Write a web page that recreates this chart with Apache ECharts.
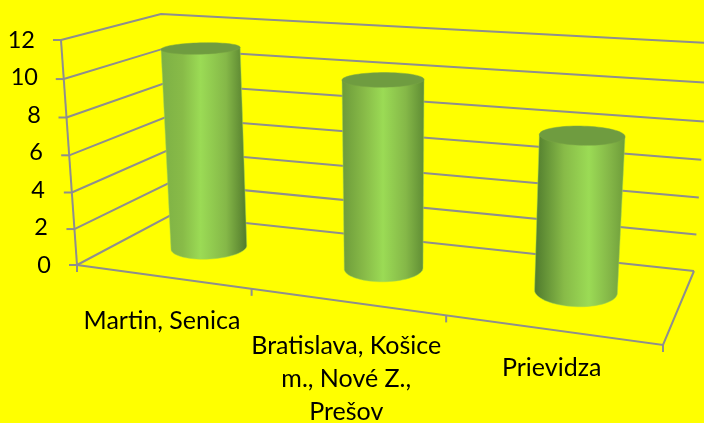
<!DOCTYPE html>
<html><head><meta charset="utf-8">
<style>html,body{margin:0;padding:0;background:#ffff00}#c{width:704px;height:423px}</style>
<script src="https://cdn.jsdelivr.net/npm/echarts@6/dist/echarts.min.js"></script>
</head><body><div id="c"></div>
<script>
const categories = ['Martin, Senica', 'Bratislava, Košice\nm., Nové Z.,\nPrešov', 'Prievidza'];
const values = [11, 10, 8];
const yTicks = [0, 2, 4, 6, 8, 10, 12];

// 3D frame of the chart box (perspective projection parameters)
const floorQuad = [[77,265],[663,345],[694,271],[171,215]];
const heightFL = 225, heightFR = 258, heightBL = 201, heightBR = 228;
const vanish = [398,4775];
const R = 0.20, RD = 0.21, DEPTH = 0.52;
const FONT = 'Lato';
const AXIS = '#8e8e8e';
const yLabelInset = {0:0,2:3,4:6,6:8,8:10,10:13,12:16};
const xLabelDrop = [28, 28, 22];
const shade = [
  {l:'#7db045', o:0.46, r:'#527a2c'},
  {l:'#6c9a3a', o:0.50, r:'#5f8c34'},
  {l:'#4f7a2d', o:0.60, r:'#6e9c3a'}
];

function homography(q){
  const [[x0,y0],[x1,y1],[x2,y2],[x3,y3]] = q;
  const dx1=x1-x2, dx2=x3-x2, sx=x0-x1+x2-x3, dy1=y1-y2, dy2=y3-y2, sy=y0-y1+y2-y3;
  const det=dx1*dy2-dx2*dy1;
  const g=(sx*dy2-dx2*sy)/det, h=(dx1*sy-sx*dy1)/det;
  const a=x1-x0+g*x1, b=x3-x0+h*x3, d=y1-y0+g*y1, e=y3-y0+h*y3;
  return (u,v)=>{const w=g*u+h*v+1; return [(a*u+b*v+x0)/w,(d*u+e*v+y0)/w];};
}
const Hf = homography(floorQuad);
function proj(u,t,d){ // u: along categories 0..1, t: height 0..1, d: depth 0..1
  const w=u+0.09*u*(1-u);
  const b=Hf(w,d);
  const H=(heightFL*(1-w)+heightFR*w)*(1-d)+(heightBL*(1-w)+heightBR*w)*d;
  const tt=t+0.05*t*(t-1);
  const up=H*tt;
  return [b[0]+up*(b[0]-vanish[0])/(vanish[1]-b[1]), b[1]-up];
}
function frac(api,params,cat,val){
  const s=params.coordSys, p=api.coord([cat,val]);
  return {u:(p[0]-s.x)/s.width, t:(s.y+s.height-p[1])/s.height};
}
const lineStyle={stroke:AXIS,lineWidth:2,fill:null};
function line(pts){return {type:'polyline',shape:{points:pts},style:lineStyle,silent:true};}

function renderGrid(params,api){
  const v=api.value(0);
  const f=frac(api,params,0,v);
  const a=proj(0,f.t,0), b=proj(0,f.t,1), c=proj(1,f.t,1);
  return {type:'group',children:[line([a,b,c]),line([[a[0]-8,a[1]],a])]};
}
function renderFrame(params,api){
  const n=categories.length, kids=[];
  kids.push(line([proj(0,0,0),proj(0,1,0)]));
  kids.push(line([proj(0,0,0),proj(1,0,0),proj(1,0,1)]));
  for(let k=0;k<=n;k++){const p=proj(k/n,0,0);kids.push(line([p,[p[0],p[1]+7]]));}
  return {type:'group',children:kids};
}
function renderCylinder(params,api){
  const i=api.value(0), v=api.value(1);
  const f=frac(api,params,i,v);
  const N=72, base=[], top=[], cu=f.u-0.002;
  for(let k=0;k<N;k++){
    const a=2*Math.PI*k/N, du=R*Math.cos(a)/categories.length, dd=RD*Math.sin(a);
    base.push(proj(cu+du,0,DEPTH+dd));
    top.push(proj(cu+du,f.t,DEPTH+dd));
  }
  const c=proj(cu,f.t,DEPTH), flat=0.88;
  const top2=top.map(p=>[p[0],c[1]+(p[1]-c[1])*flat]);
  const ext=(arr,dir)=>arr.reduce((b,p,idx)=>(p[0]*dir>arr[b][0]*dir?idx:b),0);
  const bl=ext(base,-1), br=ext(base,1), tl=ext(top2,-1), tr=ext(top2,1);
  const body=[top2[tl],top2[tr]];
  for(let k=br;;k=(k-1+N)%N){body.push(base[k]);if(k===bl)break;}
  const sh=shade[i];
  return {type:'group',children:[
    {type:'polygon',shape:{points:body},silent:true,style:{
      fill:new echarts.graphic.LinearGradient(0,0,1,0,[
        {offset:0,color:sh.l},{offset:sh.o*0.55,color:'#88bb48'},{offset:sh.o,color:'#9bdb55'},
        {offset:sh.o+(1-sh.o)*0.55,color:'#85b848'},{offset:1,color:sh.r}]),
      stroke:'#a8d84a',lineWidth:0.5}},
    {type:'polygon',shape:{points:top2},silent:true,style:{fill:'#6f9c40',stroke:'#7aa544',lineWidth:0.5}}
  ]};
}
function renderLabel(params,api){
  const i=api.value(0);
  const f=frac(api,params,i,0);
  const p=proj(f.u,0,0);
  return {type:'text',silent:true,x:p[0],y:p[1]+xLabelDrop[i],
    style:{text:categories[i],font:'25px '+FONT,fill:'#000',align:'center',verticalAlign:'top',lineHeight:33}};
}

const rich={};
yTicks.forEach(t=>{rich['t'+t]={fontFamily:FONT,fontSize:23.5,color:'#000',padding:[0,yLabelInset[t],0,0]};});

const chart=echarts.init(document.getElementById('c'),null,{renderer:'canvas'});
chart.setOption({
  animation:false,
  backgroundColor:'#ffff00',
  grid:{left:51,right:41,top:40,height:225,containLabel:false},
  xAxis:{type:'category',data:categories,show:false},
  yAxis:{type:'value',min:0,max:12,interval:2,
    axisLine:{show:false},axisTick:{show:false},splitLine:{show:false},
    axisLabel:{margin:0,formatter:v=>'{t'+v+'|'+v+'}',rich:rich}},
  series:[
    {type:'custom',name:'walls',coordinateSystem:'cartesian2d',clip:false,z:1,data:yTicks.map(t=>[t]),renderItem:renderGrid,encode:{y:0},silent:true},
    {type:'custom',name:'frame',coordinateSystem:'cartesian2d',clip:false,z:1,data:[[0,0]],renderItem:renderFrame,silent:true},
    {type:'custom',name:'Počet',coordinateSystem:'cartesian2d',clip:false,z:3,data:values.map((v,i)=>[i,v]),renderItem:renderCylinder,silent:true},
    {type:'custom',name:'labels',coordinateSystem:'cartesian2d',clip:false,z:4,data:values.map((v,i)=>[i,0]),renderItem:renderLabel,silent:true}
  ]
});
</script></body></html>
